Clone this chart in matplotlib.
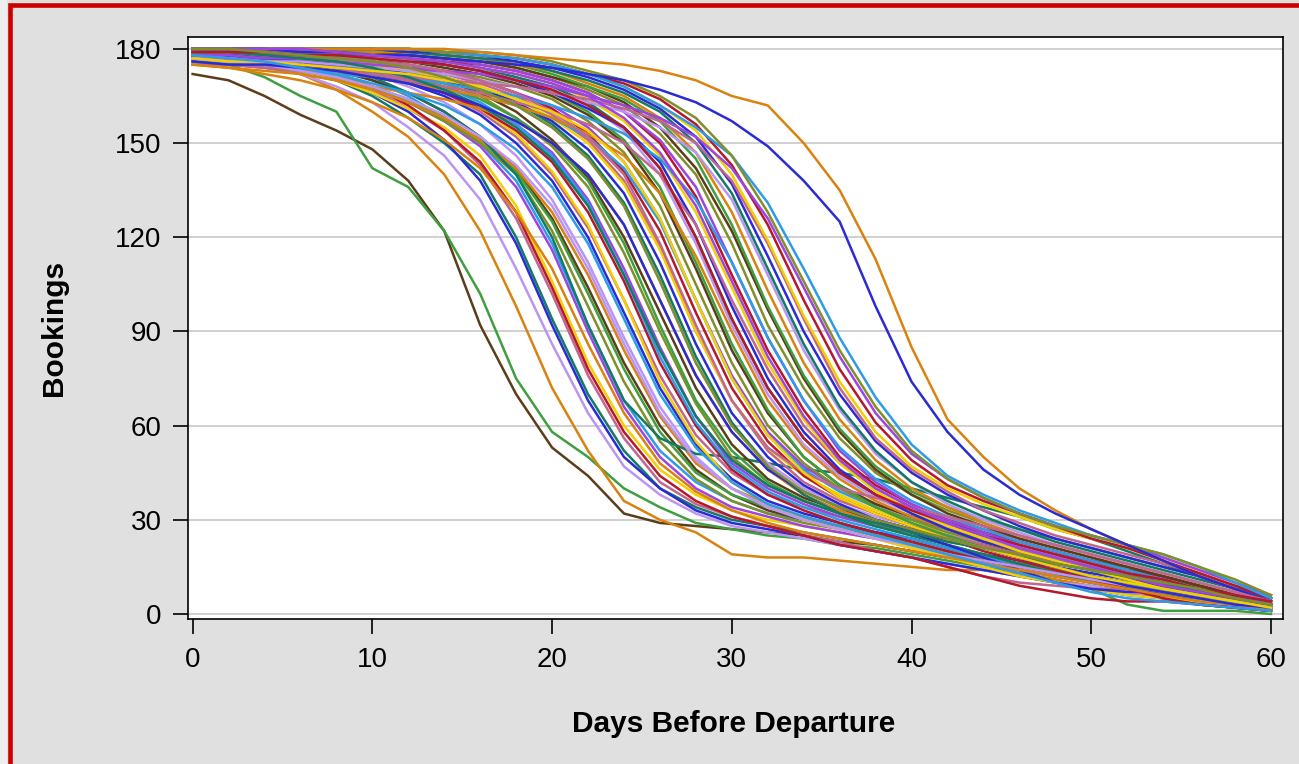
import matplotlib
matplotlib.use('Agg')
import matplotlib.pyplot as plt
from matplotlib.patches import Rectangle

plt.rcParams['font.family'] = ['Liberation Sans', 'DejaVu Sans']

# days before departure, sampled every 2 days
days = list(range(0, 61, 2))

# bookings per flight: flights that drop early
early_drop = [
    [172, 170, 165, 159, 154, 148, 138, 122, 92, 70, 53, 44, 32, 29, 28, 27, 26, 25, 23, 22, 20, 18, 16, 14, 12, 10, 8, 6, 4, 3, 1],
    [176, 175, 171, 165, 160, 142, 136, 122, 102, 75, 58, 50, 40, 34, 29, 27, 25, 24, 22, 21, 19, 17, 15, 13, 11, 8, 3, 1, 1, 1, 0],
    [179, 178, 176, 172, 167, 160, 152, 140, 122, 98, 72, 52, 36, 30, 26, 19, 18, 18, 17, 16, 15, 14, 14, 13, 11, 9, 7, 5, 4, 3, 2],
    [178, 177, 175, 172, 168, 163, 155, 146, 132, 110, 86, 64, 47, 38, 32, 28, 26, 24, 22, 20, 18, 16, 14, 12, 10, 9, 7, 5, 4, 2, 1],
    [178, 177, 176, 173, 170, 165, 158, 150, 140, 120, 94, 70, 52, 40, 34, 30, 28, 26, 24, 22, 20, 18, 16, 14, 12, 10, 8, 6, 4, 3, 2],
    [179, 178, 176, 174, 170, 166, 160, 151, 138, 118, 92, 68, 50, 40, 33, 29, 27, 25, 22, 20, 18, 16, 14, 12, 10, 8, 6, 5, 3, 2, 1],
    [178, 177, 176, 174, 171, 167, 161, 154, 143, 126, 102, 76, 56, 42, 35, 31, 28, 25, 23, 20, 18, 15, 12, 10, 9, 8, 8, 7, 5, 3, 2],
    [177, 176, 175, 173, 170, 166, 161, 155, 146, 130, 106, 80, 60, 46, 38, 33, 30, 28, 26, 24, 21, 19, 17, 15, 13, 11, 9, 7, 5, 4, 2],
    [179, 178, 177, 175, 172, 168, 162, 154, 144, 128, 104, 78, 58, 44, 36, 31, 28, 25, 22, 20, 18, 15, 12, 9, 7, 5, 4, 4, 3, 2, 1],
    [178, 177, 176, 174, 171, 168, 163, 157, 149, 136, 116, 90, 66, 50, 40, 34, 31, 28, 26, 24, 22, 20, 18, 16, 14, 12, 10, 8, 6, 4, 2],
    [180, 179, 178, 176, 174, 170, 165, 158, 150, 138, 118, 92, 68, 52, 42, 36, 32, 30, 28, 25, 23, 20, 18, 16, 14, 12, 10, 8, 6, 4, 2],
    [179, 178, 177, 175, 172, 168, 163, 157, 150, 140, 122, 98, 74, 55, 43, 36, 32, 29, 27, 25, 22, 20, 17, 15, 13, 11, 9, 7, 5, 3, 2],
    [178, 177, 176, 175, 173, 170, 166, 160, 152, 142, 126, 104, 80, 60, 46, 38, 33, 30, 28, 26, 24, 21, 18, 16, 14, 12, 10, 8, 6, 4, 3],
    [177, 176, 175, 173, 171, 168, 164, 158, 151, 141, 125, 102, 78, 58, 45, 38, 34, 31, 28, 25, 23, 20, 18, 16, 14, 12, 10, 8, 6, 4, 3],
    [176, 175, 174, 172, 170, 167, 163, 158, 151, 142, 128, 108, 84, 63, 48, 40, 35, 31, 28, 25, 22, 19, 17, 15, 13, 11, 9, 7, 5, 3, 2],
    [180, 179, 178, 177, 175, 172, 168, 163, 156, 146, 132, 112, 88, 66, 50, 40, 34, 30, 27, 24, 21, 18, 16, 14, 12, 10, 8, 6, 4, 3, 2],
    [180, 179, 178, 176, 174, 171, 166, 160, 152, 140, 120, 92, 68, 56, 51, 50, 48, 46, 45, 43, 40, 37, 34, 31, 27, 24, 20, 16, 12, 8, 5],
]

# flights that drop in the middle of the window
mid_drop = [
    [179, 178, 177, 176, 174, 172, 169, 165, 159, 150, 138, 120, 96, 72, 54, 43, 36, 32, 29, 26, 24, 21, 19, 17, 15, 13, 11, 9, 7, 5, 3],
    [178, 178, 177, 176, 175, 173, 170, 166, 160, 152, 140, 123, 100, 76, 57, 45, 38, 34, 31, 28, 26, 24, 21, 19, 17, 15, 12, 10, 7, 5, 3],
    [180, 179, 178, 177, 176, 174, 171, 167, 161, 153, 141, 124, 100, 74, 55, 42, 35, 30, 27, 24, 21, 18, 15, 12, 10, 8, 6, 5, 4, 3, 2],
    [179, 178, 178, 177, 175, 173, 170, 166, 161, 154, 144, 128, 106, 80, 60, 46, 38, 33, 29, 26, 23, 20, 17, 15, 13, 11, 9, 7, 5, 3, 2],
    [178, 177, 177, 176, 174, 172, 170, 167, 162, 156, 147, 132, 110, 85, 63, 48, 40, 35, 31, 28, 26, 24, 22, 19, 17, 15, 12, 10, 8, 5, 3],
    [180, 179, 179, 178, 176, 174, 171, 168, 163, 156, 146, 131, 108, 82, 61, 47, 39, 34, 30, 27, 24, 21, 18, 16, 13, 11, 9, 7, 5, 3, 1],
    [179, 179, 178, 177, 176, 174, 172, 169, 165, 158, 149, 136, 115, 90, 67, 50, 41, 36, 32, 29, 26, 24, 21, 19, 16, 14, 12, 9, 7, 5, 3],
    [180, 180, 179, 178, 177, 175, 173, 170, 166, 160, 151, 139, 120, 96, 72, 54, 43, 37, 33, 30, 27, 25, 22, 20, 18, 16, 14, 12, 9, 6, 3],
    [178, 178, 177, 176, 175, 173, 171, 168, 164, 158, 150, 138, 118, 92, 68, 52, 42, 36, 32, 28, 25, 22, 19, 16, 14, 12, 9, 7, 5, 4, 2],
    [175, 174, 173, 172, 170, 168, 166, 164, 161, 157, 150, 140, 124, 100, 76, 58, 46, 38, 33, 29, 26, 23, 21, 18, 16, 14, 12, 10, 8, 5, 3],
    [180, 179, 179, 178, 177, 175, 173, 170, 167, 162, 155, 145, 130, 106, 80, 60, 48, 40, 35, 31, 28, 25, 23, 20, 18, 16, 13, 11, 8, 6, 3],
    [179, 179, 178, 177, 176, 175, 173, 171, 168, 163, 156, 146, 131, 108, 82, 61, 47, 38, 32, 28, 25, 22, 19, 16, 13, 10, 8, 6, 5, 3, 2],
    [178, 178, 177, 176, 175, 174, 172, 170, 167, 163, 157, 148, 134, 112, 86, 64, 50, 41, 35, 30, 26, 22, 18, 14, 10, 8, 7, 7, 6, 4, 3],
    [180, 180, 179, 178, 177, 176, 174, 172, 169, 165, 159, 151, 138, 117, 90, 68, 52, 42, 36, 32, 28, 25, 22, 19, 17, 14, 12, 9, 7, 5, 3],
    [179, 179, 178, 177, 176, 175, 173, 171, 168, 164, 158, 150, 137, 116, 90, 68, 53, 44, 38, 33, 29, 26, 23, 21, 18, 16, 13, 11, 8, 6, 3],
    [180, 180, 179, 179, 178, 177, 175, 173, 170, 166, 161, 153, 141, 122, 96, 72, 55, 44, 37, 32, 28, 24, 20, 17, 14, 11, 8, 5, 3, 2, 1],
    [179, 179, 178, 178, 177, 176, 174, 172, 170, 166, 162, 155, 144, 126, 100, 76, 58, 47, 40, 35, 31, 28, 25, 22, 19, 17, 14, 12, 9, 7, 4],
    [176, 175, 174, 173, 172, 171, 169, 167, 165, 162, 158, 152, 142, 125, 100, 75, 57, 46, 39, 34, 30, 27, 24, 21, 18, 15, 13, 11, 8, 6, 3],
    [179, 179, 179, 178, 177, 176, 175, 173, 171, 168, 164, 157, 147, 130, 105, 80, 60, 48, 40, 34, 30, 26, 23, 20, 17, 14, 11, 9, 7, 5, 3],
    [180, 180, 179, 179, 178, 177, 176, 174, 172, 169, 165, 159, 150, 134, 110, 84, 64, 50, 41, 35, 31, 27, 24, 21, 18, 15, 12, 10, 7, 5, 3],
    [180, 180, 180, 179, 178, 177, 176, 175, 173, 170, 166, 160, 151, 136, 112, 86, 65, 50, 41, 34, 29, 25, 21, 18, 15, 12, 9, 7, 5, 4, 2],
    [177, 176, 175, 174, 173, 171, 169, 167, 165, 162, 158, 153, 146, 134, 114, 90, 68, 53, 43, 36, 31, 27, 23, 20, 17, 14, 11, 9, 7, 5, 3],
]

# flights that drop late in the window
late_drop = [
    [180, 180, 179, 179, 178, 177, 176, 175, 173, 171, 167, 162, 154, 140, 118, 92, 70, 54, 44, 37, 32, 28, 24, 21, 18, 15, 12, 10, 8, 5, 3],
    [180, 180, 180, 179, 178, 178, 177, 176, 174, 171, 168, 163, 155, 142, 120, 94, 72, 56, 45, 38, 33, 29, 26, 23, 20, 17, 15, 12, 9, 7, 4],
    [180, 180, 180, 179, 179, 178, 177, 175, 173, 170, 166, 161, 155, 144, 124, 98, 75, 58, 46, 38, 32, 27, 23, 20, 17, 14, 11, 9, 7, 5, 3],
    [177, 176, 175, 174, 173, 172, 170, 168, 166, 163, 160, 156, 150, 140, 124, 100, 78, 60, 48, 40, 34, 30, 27, 24, 21, 18, 15, 12, 9, 6, 4],
    [180, 180, 180, 179, 179, 178, 177, 176, 174, 172, 169, 164, 157, 146, 128, 104, 80, 62, 48, 39, 33, 28, 24, 20, 17, 14, 11, 8, 6, 4, 2],
    [180, 180, 180, 180, 179, 178, 177, 176, 175, 173, 170, 166, 160, 150, 133, 108, 84, 65, 50, 41, 35, 30, 26, 23, 20, 17, 14, 12, 9, 7, 4],
    [180, 180, 180, 179, 179, 178, 178, 177, 175, 173, 170, 166, 160, 151, 136, 112, 88, 68, 52, 42, 35, 30, 26, 22, 19, 16, 13, 10, 8, 5, 3],
    [176, 175, 175, 174, 173, 172, 171, 169, 167, 165, 162, 158, 153, 145, 132, 112, 88, 68, 53, 43, 36, 31, 27, 23, 20, 17, 14, 11, 8, 6, 4],
    [180, 180, 180, 180, 179, 179, 178, 177, 176, 174, 171, 167, 162, 153, 140, 118, 92, 72, 56, 45, 38, 33, 29, 25, 22, 19, 16, 13, 10, 7, 4],
    [180, 180, 180, 180, 180, 179, 178, 177, 176, 174, 171, 168, 163, 155, 142, 122, 97, 75, 58, 46, 38, 32, 28, 24, 21, 18, 15, 12, 9, 6, 4],
    [180, 180, 180, 180, 180, 179, 179, 178, 177, 175, 172, 168, 164, 157, 145, 124, 98, 76, 59, 47, 39, 34, 30, 27, 24, 21, 18, 15, 12, 8, 5],
    [180, 180, 180, 180, 180, 179, 179, 178, 177, 175, 173, 169, 165, 158, 147, 128, 103, 80, 62, 49, 40, 34, 29, 25, 22, 19, 16, 13, 10, 7, 4],
    [178, 177, 176, 176, 175, 174, 173, 172, 170, 168, 166, 163, 160, 155, 147, 132, 108, 84, 65, 51, 42, 35, 30, 26, 22, 19, 16, 13, 10, 7, 5],
    [180, 180, 180, 180, 180, 180, 179, 178, 177, 176, 173, 170, 166, 160, 150, 134, 110, 86, 66, 52, 42, 36, 31, 27, 23, 20, 17, 14, 11, 8, 5],
    [180, 180, 180, 180, 180, 180, 179, 179, 178, 176, 174, 171, 167, 161, 152, 137, 114, 90, 70, 55, 45, 38, 33, 28, 24, 21, 18, 15, 12, 8, 5],
    [175, 175, 174, 173, 173, 172, 171, 170, 169, 168, 166, 164, 161, 157, 150, 138, 118, 94, 72, 56, 46, 39, 33, 29, 25, 22, 19, 16, 13, 9, 6],
    [180, 180, 180, 180, 180, 180, 180, 179, 178, 177, 175, 172, 168, 162, 154, 140, 119, 95, 74, 58, 47, 40, 35, 31, 27, 24, 21, 18, 14, 10, 5],
    [180, 180, 180, 180, 180, 180, 180, 179, 178, 177, 175, 172, 169, 164, 156, 143, 124, 100, 78, 61, 49, 41, 36, 32, 28, 24, 21, 17, 13, 9, 5],
    [178, 178, 177, 177, 176, 175, 174, 173, 172, 170, 168, 165, 162, 158, 152, 142, 126, 104, 82, 64, 51, 43, 37, 32, 28, 25, 22, 18, 14, 10, 6],
    [180, 180, 180, 180, 180, 180, 180, 179, 178, 177, 175, 172, 168, 162, 155, 146, 131, 110, 88, 69, 54, 44, 38, 33, 29, 25, 22, 19, 15, 10, 5],
    [180, 180, 180, 180, 180, 180, 180, 179, 179, 178, 176, 173, 170, 165, 158, 146, 128, 106, 84, 66, 52, 43, 37, 32, 28, 25, 22, 19, 15, 11, 6],
    [180, 180, 180, 180, 180, 180, 180, 180, 179, 178, 177, 176, 175, 173, 170, 165, 162, 150, 135, 113, 85, 62, 50, 40, 33, 27, 22, 17, 12, 8, 4],
    [180, 180, 180, 179, 179, 178, 178, 177, 176, 175, 174, 172, 170, 167, 163, 157, 149, 138, 125, 98, 74, 58, 46, 38, 32, 27, 22, 17, 12, 8, 4],
]

# a few more flights spread through the middle
extra_drop = [
    [175, 174, 172, 170, 167, 163, 158, 151, 142, 128, 110, 86, 64, 48, 39, 33, 29, 26, 24, 22, 20, 18, 16, 14, 12, 10, 8, 6, 4, 3, 1],
    [177, 176, 175, 173, 171, 168, 164, 159, 152, 143, 130, 110, 86, 64, 49, 40, 34, 30, 27, 24, 22, 19, 17, 15, 13, 11, 9, 7, 5, 3, 2],
    [179, 179, 178, 177, 176, 174, 171, 167, 162, 155, 145, 130, 108, 84, 63, 49, 41, 36, 32, 29, 26, 23, 21, 18, 16, 14, 12, 10, 7, 5, 3],
    [176, 175, 175, 174, 173, 171, 169, 166, 162, 157, 150, 140, 124, 100, 76, 58, 46, 39, 34, 30, 27, 24, 21, 18, 15, 12, 9, 7, 5, 3, 2],
    [180, 180, 179, 178, 177, 176, 175, 173, 170, 166, 160, 152, 140, 118, 92, 68, 53, 45, 40, 37, 34, 31, 28, 25, 22, 19, 16, 13, 10, 7, 4],
    [177, 176, 176, 175, 174, 173, 172, 170, 168, 164, 160, 154, 144, 126, 100, 75, 57, 45, 37, 32, 28, 24, 21, 18, 15, 12, 10, 8, 6, 4, 2],
    [179, 179, 179, 178, 178, 177, 176, 175, 173, 170, 167, 162, 155, 142, 120, 94, 72, 56, 45, 38, 33, 29, 25, 22, 19, 16, 13, 11, 8, 6, 4],
    [180, 180, 180, 180, 179, 178, 177, 176, 174, 172, 169, 165, 158, 147, 130, 106, 82, 63, 49, 40, 34, 29, 25, 21, 18, 15, 12, 9, 7, 5, 3],
    [178, 177, 176, 174, 172, 169, 166, 162, 156, 148, 136, 118, 94, 70, 53, 42, 35, 31, 28, 25, 22, 19, 16, 13, 10, 7, 5, 4, 3, 2, 1],
    [180, 180, 179, 178, 177, 176, 174, 171, 167, 162, 155, 145, 130, 106, 80, 60, 47, 39, 34, 30, 27, 24, 21, 19, 16, 14, 12, 10, 8, 5, 3],
]

y_ticks = [0, 30, 60, 90, 120, 150, 180]
x_ticks = [0, 10, 20, 30, 40, 50, 60]

palette = ['#5c3d1a', '#3f9f3f', '#d9820f', '#bb95f2', '#137a66', '#2b2bd4',
           '#c0678f', '#f2cf00', '#b5182b', '#9c45e0', '#2e9be6', '#808f2a']

flights = early_drop + mid_drop + late_drop + extra_drop
colors = [palette[i % len(palette)] for i in range(len(flights))]
# the two right-most flights
n_first = len(early_drop) + len(mid_drop)
colors[n_first + len(late_drop) - 2] = '#d9820f'
colors[n_first + len(late_drop) - 1] = '#2b2bd4'

fig = plt.figure(figsize=(12.99, 7.64), dpi=100, facecolor='#e0e0e0')
ax = fig.add_axes([0.1447, 0.1898, 0.843, 0.7618])
ax.set_facecolor('white')

for vals, c in zip(flights, colors):
    ax.plot(days, vals, color=c, lw=1.8, zorder=3)

ax.set_xlim(-0.26, 60.67)
ax.set_ylim(-1.6, 183.8)
ax.set_xticks(x_ticks)
ax.set_yticks(y_ticks)
ax.yaxis.grid(True, color='#c8c8c8', lw=1.2, zorder=1)
ax.set_axisbelow(True)
ax.tick_params(axis='both', labelsize=20, length=11, width=1.2, color='black')
ax.tick_params(axis='x', pad=9)
ax.tick_params(axis='y', pad=8)
for s in ax.spines.values():
    s.set_color('black')
    s.set_linewidth(1.2)

fig.text(734 / 1299, 32 / 764, 'Days Before Departure', ha='center', va='baseline',
         fontsize=21.5, fontweight='bold')
fig.text(54 / 1299, 1 - 328 / 764, 'Bookings', ha='center', va='center', rotation=90,
         fontsize=21.5, fontweight='bold')

# outer frame
fig.add_artist(Rectangle((0, 0), 7 / 1299, 1, transform=fig.transFigure,
                         facecolor='#eeeeee', edgecolor='none'))
fig.add_artist(Rectangle((9.5 / 1299, -0.1), 1.2, 1.1 - 5 / 764, transform=fig.transFigure,
                         facecolor='none', edgecolor='#cc0000', lw=3.3))

fig.savefig('out.png', dpi=100, facecolor=fig.get_facecolor())
